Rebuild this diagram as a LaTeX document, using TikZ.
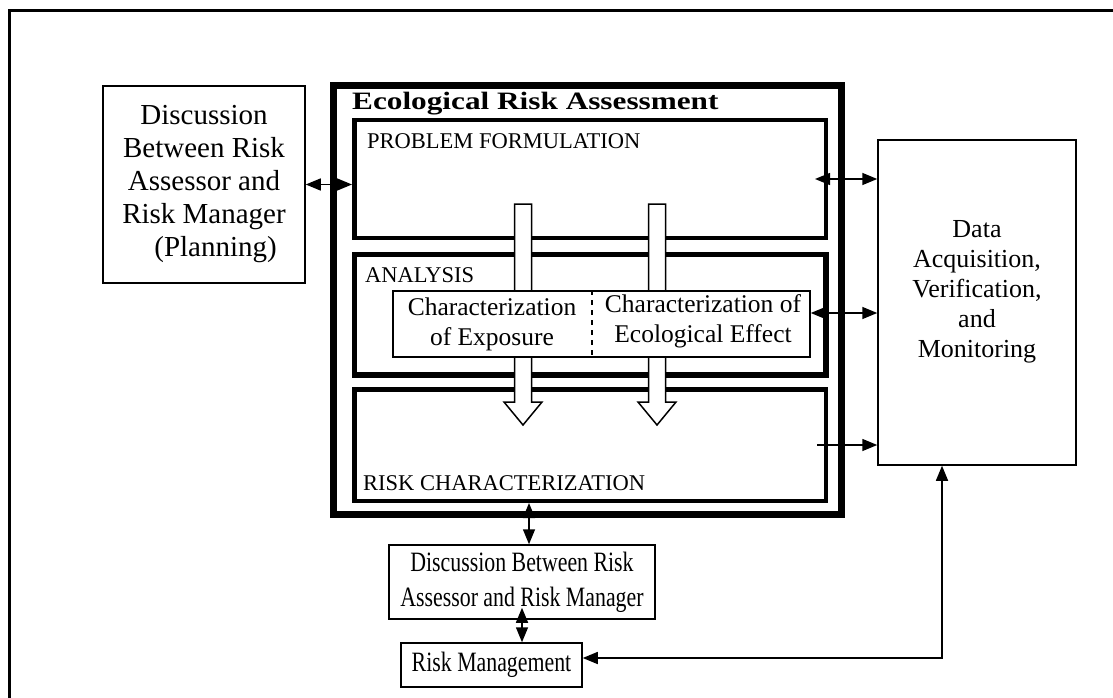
\documentclass[tikz,border=0pt]{standalone}
\usepackage{fontspec}
\setmainfont{Liberation Serif}
\newfontfamily\widefont[FakeStretch=1.25]{Liberation Serif}
\newfontfamily\narrowfont[FakeStretch=0.78]{Liberation Serif}
\usetikzlibrary{arrows.meta}

\begin{document}
\begin{tikzpicture}[x=1pt,y=-1pt,
    >={Triangle[length=15pt,width=12pt]},
    box/.style={draw, line width=1.5pt, inner sep=0pt},
    stage/.style={draw, line width=4.5pt, minimum width=471.5pt, inner sep=0pt},
    stagelabel/.style={anchor=base west, inner sep=0pt, font=\fontsize{22.5}{26}\selectfont},
    conn/.style={line width=1.5pt}]
    \useasboundingbox (0,0) rectangle (1113,698);
    \fill[white] (0,0) rectangle (1113,698);
    \draw[line width=2.5pt] (9.5,698) -- (9.5,10.5) -- (1113,10.5);

    % planning
    \node[box, minimum width=202pt, minimum height=197pt, align=center,
        font=\fontsize{29}{33}\selectfont] (plan) at (204,184.5)
        {Discussion\\Between Risk\\Assessor and\\Risk Manager\\\hspace*{0.8em}(Planning)};

    % the assessment and its three stages
    \node[draw, line width=7pt, minimum width=508pt, minimum height=429pt, inner sep=0pt] (era) at (587.5,300) {};
    \node[anchor=base west, inner sep=0pt, font=\widefont\bfseries\fontsize{25}{30}\selectfont] (title) at (352,110) {Ecological Risk Assessment};
    \node[stage, minimum height=117.5pt] (pf) at (590,179) {};
    \node[stage, line width=5.5pt, minimum height=120.5pt] (an) at (590,314.5) {};
    \node[stage, minimum height=111.5pt] (rc) at (590,445) {};
    \node[stagelabel] (pflabel) at (367,148) {PROBLEM FORMULATION};
    \node[stagelabel] (anlabel) at (365,282) {ANALYSIS};
    \node[stagelabel] (rclabel) at (363,490) {RISK CHARACTERIZATION};

    % hollow arrows through the stages
    \foreach \ax in {523,657}
        \draw[line width=1.5pt, fill=white] (\ax-8.5,204) -- (\ax+8.5,204) -- (\ax+8.5,402) -- (\ax+19,402)
            -- (\ax,425) -- (\ax-19,402) -- (\ax-8.5,402) -- cycle;

    \node[box, fill=white, minimum width=417pt, minimum height=66pt] (char) at (601.5,324) {};
    \draw[line width=1.5pt, dash pattern=on 5pt off 5pt] ([xshift=-9.5pt]char.north) -- ([xshift=-9.5pt]char.south);
    \node[align=center, font=\fontsize{25.5}{30}\selectfont] (expo) at (492,324) {Characterization\\of Exposure};
    \node[align=center, font=\fontsize{25.5}{30}\selectfont] (effect) at (703,321) {Characterization of\\Ecological Effect};

    % data
    \node[box, minimum width=198pt, minimum height=325pt] (data) at (977,302.5) {};
    \node[align=center, font=\fontsize{26}{30}\selectfont] (datatext) at (977,292) {Data\\Acquisition,\\Verification,\\and\\Monitoring};

    % discussion and management
    \node[box, minimum width=266pt, minimum height=74pt, align=center,
        font=\narrowfont\fontsize{28}{35}\selectfont] (disc) at (522,582)
        {Discussion Between Risk\\Assessor and Risk Manager};
    \node[box, minimum width=181pt, minimum height=44pt,
        font=\narrowfont\fontsize{28}{34}\selectfont] (rm) at (491.5,665) {Risk Management};

    % connectors
    \coordinate (effout) at ([yshift=11pt]char.east);
    \coordinate (rmin) at ([yshift=7pt]rm.east);
    \coordinate (dataout) at ([xshift=-35pt]data.south);
    \coordinate (rcdown) at ([xshift=7pt]disc.north);
    \draw[conn, <->] (plan.east) -- (plan.east -| pf.west);
    \draw[conn, <->] ([xshift=-13pt]pf.east) -- (pf.east -| data.west);
    \draw[conn, <->] (effout) -- (effout -| data.west);
    \draw[conn, ->] ([xshift=-11pt]rc.east) -- (rc.east -| data.west);
    \draw[conn, <->] (rmin) -| (dataout);
    \draw[conn, <->] (rcdown |- rc.south) -- (rcdown);
    \draw[conn, <->] ([yshift=12pt]disc.south) -- (disc.south |- rm.north);
\end{tikzpicture}
\end{document}
